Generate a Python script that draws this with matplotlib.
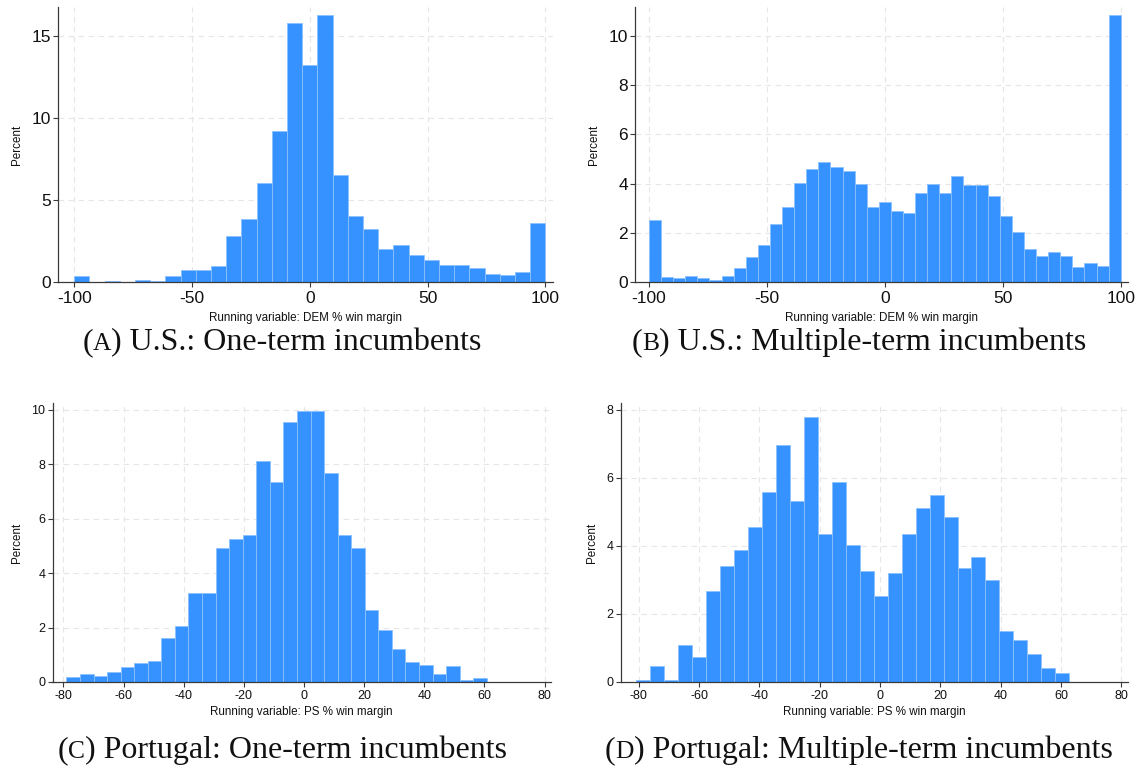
import numpy as np
import matplotlib
matplotlib.use("Agg")
import matplotlib.pyplot as plt

# ---------------- data (percent per bin) ----------------
# Panel A: U.S. one-term incumbents, 31 bins over [-100, 100]
us_one_range = (-100.0, 100.0)
us_one_pct = [0.35, 0.0, 0.06, 0.0, 0.14, 0.06, 0.35, 0.71, 0.71, 1.0,
              2.8, 3.82, 6.06, 9.17, 15.75, 13.23, 16.26, 6.5, 4.02, 3.23,
              2.01, 2.28, 1.63, 1.36, 1.06, 1.06, 0.85, 0.49, 0.41, 0.63, 3.6]

# Panel B: U.S. multiple-term incumbents, 39 bins over [-100, 100]
us_multi_range = (-100.0, 100.0)
us_multi_pct = [2.51, 0.22, 0.18, 0.23, 0.15, 0.10, 0.23, 0.56, 1.02, 1.50,
                2.37, 3.06, 4.03, 4.58, 4.87, 4.67, 4.49, 3.97, 3.04, 3.26,
                2.87, 2.82, 3.63, 3.97, 3.62, 4.32, 3.92, 3.94, 3.48, 2.67,
                2.03, 1.36, 1.06, 1.21, 1.06, 0.62, 0.77, 0.66, 10.83]

# Panel C: Portugal one-term incumbents, 31 bins over [-79.0, 60.8]
pt_one_range = (-79.0, 60.8)
pt_one_pct = [0.17, 0.31, 0.23, 0.38, 0.54, 0.69, 0.76, 1.60, 2.04, 3.26,
              3.26, 4.93, 5.24, 5.39, 8.12, 7.36, 9.56, 9.94, 9.94, 7.66,
              5.39, 4.93, 2.66, 1.90, 1.21, 0.75, 0.61, 0.31, 0.60, 0.06, 0.16]

# Panel D: Portugal multiple-term incumbents, 31 bins over [-80.8, 62.7]
pt_multi_range = (-80.8, 62.7)
pt_multi_pct = [0.07, 0.48, 0.07, 1.09, 0.74, 2.66, 3.41, 3.89, 4.57, 5.59,
                6.96, 5.32, 7.78, 4.36, 5.87, 4.02, 3.27, 2.52, 3.21, 4.36,
                5.11, 5.51, 4.84, 3.34, 3.68, 3.00, 1.50, 1.22, 0.81, 0.41, 0.27]

us_xticks = [-100, -50, 0, 50, 100]
pt_xticks = [-80, -60, -40, -20, 0, 20, 40, 60, 80]
yticks_a = [0, 5, 10, 15]
yticks_b = [0, 2, 4, 6, 8, 10]
yticks_c = [0, 2, 4, 6, 8, 10]
yticks_d = [0, 2, 4, 6, 8]

xlabel_us = "Running variable: DEM % win margin"
xlabel_pt = "Running variable: PS % win margin"
ylabel = "Percent"

captions = [("A", "U.S.: One-term incumbents"),
            ("B", "U.S.: Multiple-term incumbents"),
            ("C", "Portugal: One-term incumbents"),
            ("D", "Portugal: Multiple-term incumbents")]

# ---------------- styling ----------------
W, H = 1140, 780
DPI = 100
BAR = "#3592fe"
EDGE = "#8cc1ff"
GRID = "#e6e6e6"
AXC = "#3a3a3a"
SANS = ["Liberation Sans", "DejaVu Sans"]
SERIF = ["Liberation Serif", "DejaVu Serif"]

fig = plt.figure(figsize=(W / DPI, H / DPI), dpi=DPI)


def px_axes(left, top, right, bottom):
    return fig.add_axes([left / W, 1 - bottom / H, (right - left) / W, (bottom - top) / H])


def panel(box, rng, pct, xlim, ylim, xticks, yticks, xlabel, tick_fs, xpad, lpad):
    ax = px_axes(*box)
    n = len(pct)
    edges = np.linspace(rng[0], rng[1], n + 1)
    ax.bar(edges[:-1], pct, width=np.diff(edges), align="edge",
           color=BAR, edgecolor=EDGE, linewidth=0.6, zorder=2)
    ax.set_xlim(*xlim)
    ax.set_ylim(*ylim)
    ax.set_xticks(xticks)
    ax.set_yticks(yticks)
    ax.set_xticklabels([str(t) for t in xticks], fontfamily=SANS)
    ax.set_yticklabels([str(t) for t in yticks], fontfamily=SANS)
    ax.tick_params(axis="both", labelsize=tick_fs, length=3.5, width=0.8,
                   color=AXC, pad=1.5, labelcolor="#111111")
    ax.tick_params(axis="x", pad=xpad)
    for t in xticks:
        ax.axvline(t, color=GRID, lw=0.8, ls=(0, (5, 4)), zorder=0)
    for t in yticks[1:]:
        ax.axhline(t, color=GRID, lw=0.8, ls=(0, (5, 4)), zorder=0)
    for s in ("top", "right"):
        ax.spines[s].set_visible(False)
    for s in ("left", "bottom"):
        ax.spines[s].set_color(AXC)
        ax.spines[s].set_linewidth(0.9)
    ax.set_xlabel(xlabel, fontsize=8.4, fontfamily=SANS, labelpad=lpad, color="#111111")
    ax.set_ylabel(ylabel, fontsize=8.4, fontfamily=SANS, labelpad=6, color="#111111")
    return ax


panel((58, 7, 552.5, 282), us_one_range, us_one_pct, (-106.9, 103.06), (0, 16.75),
      us_xticks, yticks_a, xlabel_us, 12.5, 3.0, 4.5)
panel((635, 7, 1128, 282), us_multi_range, us_multi_pct, (-105.94, 103.1), (0, 11.17),
      us_xticks, yticks_b, xlabel_us, 12.5, 3.0, 4.5)
panel((52.5, 403, 550.7, 682), pt_one_range, pt_one_pct, (-83.62, 82.03), (0, 10.25),
      pt_xticks, yticks_c, xlabel_pt, 9, 2.0, 3.5)
panel((620.7, 403, 1128, 682), pt_multi_range, pt_multi_pct, (-86.0, 82.19), (0, 8.2),
      pt_xticks, yticks_d, xlabel_pt, 9, 2.0, 3.5)

# ---------------- captions with small-caps letter ----------------
fig.canvas.draw()
renderer = fig.canvas.get_renderer()


def caption(cx, cy, letter, rest, fs):
    parts = [("(", fs), (letter, fs * 0.8), (") " + rest, fs)]
    widths = []
    objs = []
    for s, f in parts:
        t = fig.text(0, 0, s, fontsize=f, fontfamily=SERIF, color="#111111",
                     va="baseline", ha="left")
        bb = t.get_window_extent(renderer)
        widths.append(bb.width)
        objs.append(t)
    total = sum(widths)
    x = cx - total / 2
    for t, w in zip(objs, widths):
        t.set_position((x / W, 1 - cy / H))
        x += w


caption(282, 350, captions[0][0], captions[0][1], 23)
caption(859, 350, captions[1][0], captions[1][1], 23)
caption(282, 758, captions[2][0], captions[2][1], 23)
caption(859, 758, captions[3][0], captions[3][1], 23)

fig.savefig("out.png", dpi=DPI, facecolor="white")
